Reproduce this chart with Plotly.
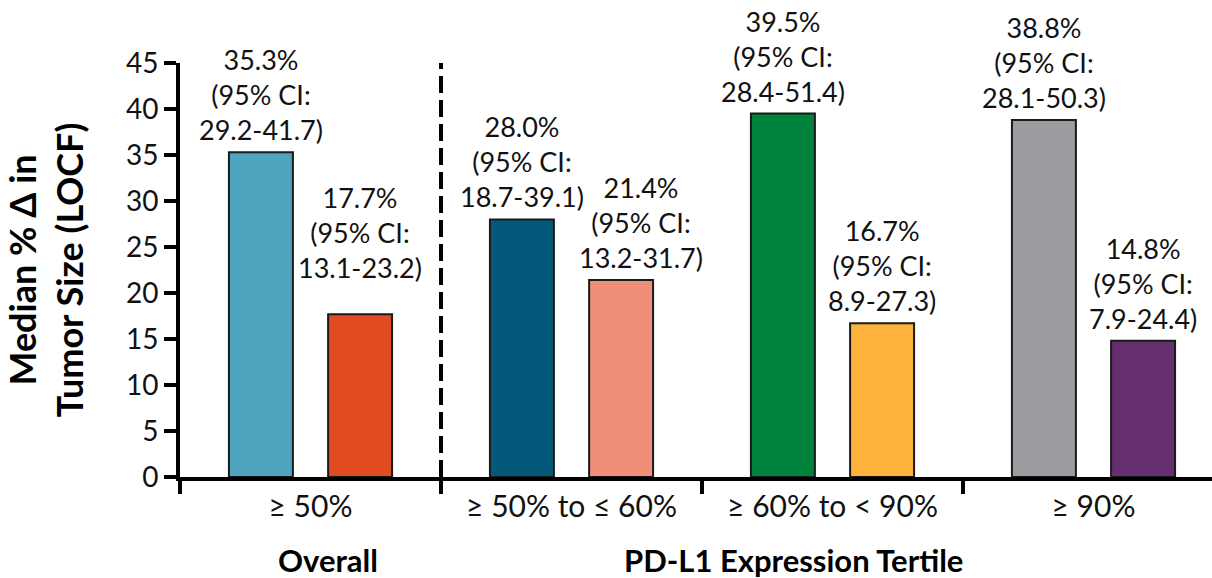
import plotly.graph_objects as go

# ---- data ----
categories = ["≥ 50%", "≥ 50% to ≤ 60%", "≥ 60% to < 90%", "≥ 90%"]
left_values = [35.3, 28.0, 39.5, 38.8]
right_values = [17.7, 21.4, 16.7, 14.8]
left_ci = ["29.2-41.7", "18.7-39.1", "28.4-51.4", "28.1-50.3"]
right_ci = ["13.1-23.2", "13.2-31.7", "8.9-27.3", "7.9-24.4"]
left_colors = ["#4EA3BE", "#02597A", "#00843D", "#9C9BA0"]
right_colors = ["#E04B1F", "#EF8F79", "#FDB33B", "#652E6E"]
group_labels = ["Overall", "PD-L1 Expression Tertile"]
y_ticks = [0, 5, 10, 15, 20, 25, 30, 35, 40, 45]

# ---- style ----
FONT = "Lato"
BAR_OFFSET = 0.19
left_lift = [0, 0, 0, 0]
right_lift = [24, 0, 0, 0]
right_xshift = [0, 20, 0, 0]

idx = list(range(len(categories)))

fig = go.Figure()
fig.add_trace(go.Bar(x=idx, y=left_values, marker=dict(color=left_colors, line=dict(color="#1a1a1a", width=2)), showlegend=False))
fig.add_trace(go.Bar(x=idx, y=right_values, marker=dict(color=right_colors, line=dict(color="#1a1a1a", width=2)), showlegend=False))

def label(v, ci):
    return f"{v:.1f}%<br>(95% CI:<br>{ci})"

for i in idx:
    fig.add_annotation(x=i - BAR_OFFSET, y=left_values[i], text=label(left_values[i], left_ci[i]),
                       showarrow=False, yanchor="bottom", yshift=4 + left_lift[i],
                       font=dict(family=FONT, size=27, color="#111"))
    fig.add_annotation(x=i + BAR_OFFSET, y=right_values[i], text=label(right_values[i], right_ci[i]),
                       showarrow=False, yanchor="bottom", yshift=4 + right_lift[i], xshift=right_xshift[i],
                       font=dict(family=FONT, size=27, color="#111"))

fig.add_annotation(x=0.067, y=-0.2, xref="x", yref="paper", yanchor="middle", text="<b>" + group_labels[0] + "</b>",
                   showarrow=False, font=dict(family=FONT, size=31, color="black"))
fig.add_annotation(x=1.85, y=-0.2, xref="x", yref="paper", yanchor="middle", text="<b>" + group_labels[1] + "</b>",
                   showarrow=False, font=dict(family=FONT, size=31, color="black"))

fig.add_shape(type="line", x0=0.5, x1=0.5, y0=0, y1=45, xref="x", yref="y",
              line=dict(color="black", width=4, dash="17px,7px"))

fig.update_layout(
    width=1212, height=578,
    margin=dict(l=180, r=0, t=63, b=101),
    plot_bgcolor="white", paper_bgcolor="white",
    barmode="group", bargap=0.24, bargroupgap=0.355,
    font=dict(family=FONT, color="black"),
)
fig.update_xaxes(
    range=[-0.5, 3.454], tickmode="array", tickvals=idx, ticktext=categories,
    ticks="", showline=True, linewidth=4, linecolor="black", showgrid=False, zeroline=False,
    tickfont=dict(family=FONT, size=30, color="#111"),
    minor=dict(tickmode="array", tickvals=[-0.5, 0.5, 1.5, 2.5], ticks="outside",
               ticklen=13, tickwidth=4, tickcolor="black", showgrid=False),
)
fig.update_yaxes(
    range=[0, 45], tickmode="array", tickvals=y_ticks, ticks="outside", ticklen=12, tickwidth=4,
    tickcolor="black", showline=True, linewidth=4, linecolor="black", showgrid=False, zeroline=False,
    tickfont=dict(family=FONT, size=28, color="#111"),
    title=dict(text="<b>Median % Δ in<br>Tumor Size (LOCF)</b>", font=dict(family=FONT, size=36, color="black"), standoff=33),
)

fig.write_html("out.html")
